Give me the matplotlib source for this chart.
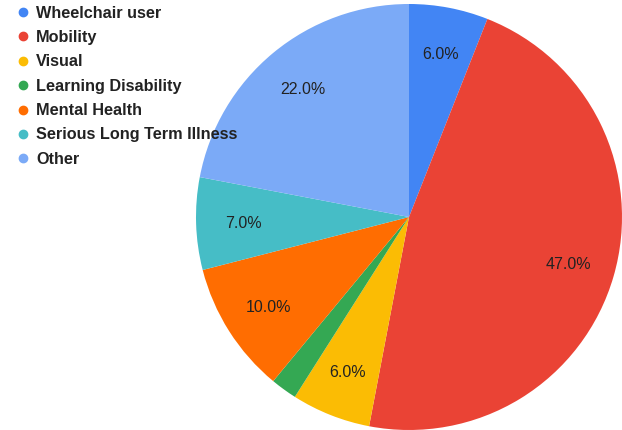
import matplotlib
matplotlib.use("Agg")
import matplotlib.pyplot as plt
from matplotlib.lines import Line2D

categories = ["Wheelchair user", "Mobility", "Visual", "Learning Disability",
              "Mental Health", "Serious Long Term Illness", "Other"]
values = [6.0, 47.0, 6.0, 2.0, 10.0, 7.0, 22.0]
colors = ["#4285F4", "#EA4335", "#FBBC04", "#34A853", "#FF6D01", "#46BDC6", "#7BAAF7"]

W, H = 622, 431
fig = plt.figure(figsize=(W / 100, H / 100), dpi=100)
fig.patch.set_facecolor("white")

cx, cy, r = 409, 218, 213
ax = fig.add_axes([(cx - r) / W, (H - cy - r) / H, 2 * r / W, 2 * r / H])

def fmt(p):
    return f"{p:.1f}%" if p >= 5 else ""

wedges, texts, autotexts = ax.pie(
    values, colors=colors, startangle=90, counterclock=False, radius=1,
    autopct=fmt, pctdistance=0.78,
    textprops=dict(fontsize=11.5, color="#222222", family=["Liberation Sans", "DejaVu Sans"]),
    wedgeprops=dict(linewidth=0),
)
ax.set_xlim(-1, 1)
ax.set_ylim(-1, 1)
ax.set_aspect("equal")
ax.axis("off")

# legend drawn manually
x_marker = 23 / W
x_text = 36 / W
y0 = 13
dy = 24.4
for i, (lab, col) in enumerate(zip(categories, colors)):
    y = 1 - (y0 + i * dy) / H
    fig.add_artist(Line2D([x_marker], [y], marker="o", markersize=6,
                          markerfacecolor=col, markeredgecolor=col,
                          linestyle="none", transform=fig.transFigure))
    fig.text(x_text, y, lab, fontsize=11.7, fontweight="bold", color="#222222",
             va="center", ha="left", family=["Liberation Sans", "DejaVu Sans"])

fig.savefig("out.png", dpi=100)
